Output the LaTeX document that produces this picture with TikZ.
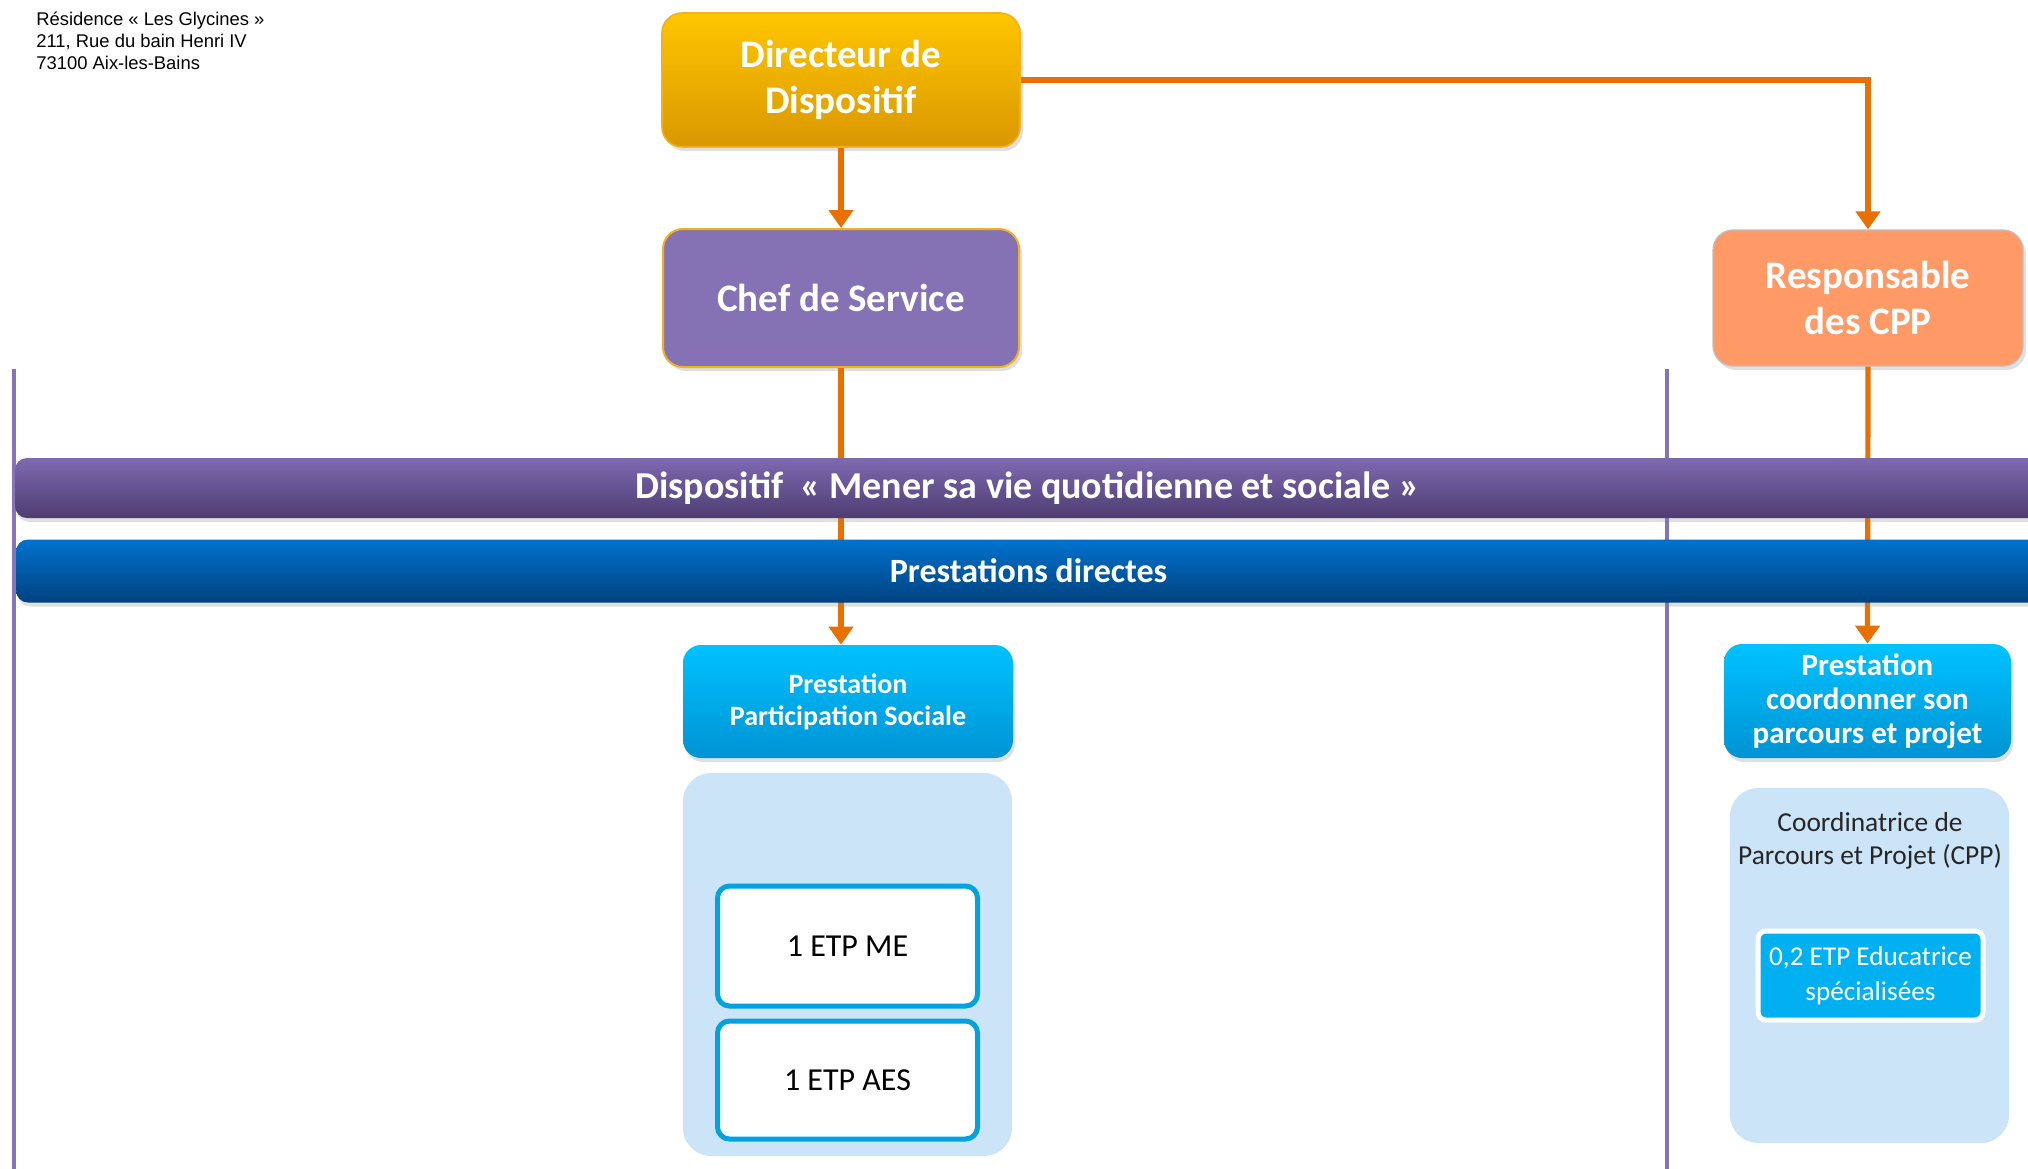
\documentclass[tikz,border=0pt]{standalone}
\usepackage{fontspec}
\setmainfont{Carlito}
\newfontfamily\addrfont{Liberation Sans}
\usepackage{tikz}
\usetikzlibrary{arrows.meta, positioning, shadows, calc}

\definecolor{dirtop}{HTML}{FFC600}
\definecolor{dirbot}{HTML}{D99800}
\definecolor{chefpurple}{HTML}{8472B4}
\definecolor{goldline}{HTML}{F2B01E}
\definecolor{respfill}{HTML}{FF9966}
\definecolor{linkorange}{HTML}{E87000}
\definecolor{bandtop}{HTML}{7E69B0}
\definecolor{bandbot}{HTML}{4E3D72}
\definecolor{bluetop}{HTML}{0072CE}
\definecolor{bluebot}{HTML}{00427F}
\definecolor{prestop}{HTML}{00C2FF}
\definecolor{presbot}{HTML}{0093D3}
\definecolor{panelblue}{HTML}{CCE4F8}
\definecolor{etpline}{HTML}{00A2E0}
\definecolor{edufill}{HTML}{00B0F0}
\definecolor{sepline}{HTML}{8673BA}

\begin{document}
\begin{tikzpicture}[
    x=0.5pt, y=-0.5pt,
    role/.style={rounded corners=10pt, align=center, text=white, font=\fontsize{19.5}{23}\selectfont\bfseries,
      drop shadow={shadow xshift=1.5pt, shadow yshift=-2pt, opacity=0.25}},
    band/.style={rounded corners=6pt, text=white, minimum width=1012.5pt,
      drop shadow={shadow xshift=1pt, shadow yshift=-2pt, opacity=0.25}},
    prest/.style={rounded corners=9pt, align=center, text=white, top color=prestop, bottom color=presbot,
      font=\fontsize{14}{16}\selectfont\bfseries,
      drop shadow={shadow xshift=1pt, shadow yshift=-2pt, opacity=0.25}},
    panel/.style={rounded corners=14pt, fill=panelblue},
    etp/.style={rounded corners=6pt, draw=etpline, line width=2.5pt, fill=white,
      minimum width=130pt, font=\fontsize{16}{19}\selectfont},
    link/.style={line width=2.6pt, linkorange},
    arr/.style={link, -{Triangle[width=12pt, length=9pt]}},
    sep/.style={line width=2pt, sepline},
]
  \useasboundingbox (0,0) rectangle (2028,1168);

  % adresse
  \node[anchor=north west, align=left, inner sep=0pt, font=\addrfont\fontsize{9.2}{11}\selectfont] (addr) at (36,12)
    {Résidence « Les Glycines »\\211, Rue du bain Henri IV\\73100 Aix-les-Bains};

  \node[role, top color=dirtop, bottom color=dirbot, draw=goldline, line width=0.8pt,
        minimum width=179pt, minimum height=67pt] (dir) at (841,80) {Directeur de\\Dispositif};
  \node[role, fill=chefpurple, draw=goldline, line width=1pt,
        minimum width=178pt, minimum height=69pt] (chef) at (841,298) {Chef de Service};
  \node[role, fill=respfill, draw=black!25, line width=0.6pt,
        minimum width=155pt, minimum height=68pt] (resp) at (1868,298) {Responsable\\des CPP};

  \node[prest, minimum width=165pt, minimum height=56.5pt] (pps) at (848,701.5) {Prestation\\Participation Sociale};
  \node[prest, minimum width=143.5pt, minimum height=57pt, font=\fontsize{15.5}{17}\selectfont\bfseries] (pcp) at (1867.5,701)
    {Prestation\\coordonner son\\parcours et projet};

  % traits de separation
  \coordinate (sepl) at (14,369);
  \coordinate (sepr) at (1667,369);
  \draw[sep] (sepl) -- (sepl |- 0,1170);
  \draw[sep] (sepr) -- (sepr |- 0,1170);

  % liaisons hierarchiques
  \draw[arr] (dir.south) -- (chef.north);
  \draw[arr] (dir.east) -| (resp.north);
  \draw[arr] (chef.south) -- (chef.south |- pps.north);
  \draw[arr] (resp.south) -- (pcp.north);

  \node[band, top color=bandtop, bottom color=bandbot, minimum height=30pt,
        font=\fontsize{19}{22}\selectfont\bfseries] (disp) at (1027.5,488)
    {Dispositif~ « Mener sa vie quotidienne et sociale »};
  \node[band, top color=bluetop, bottom color=bluebot, minimum height=31.5pt,
        font=\fontsize{17}{20}\selectfont\bfseries] (direct) at (1028.5,571) {Prestations directes};

  % effectifs
  \node[panel, minimum width=164.5pt, minimum height=191.5pt] (panl) at (847.5,964.5) {};
  \node[etp, minimum height=60pt] (me) at (847.5,946) {1 ETP ME};
  \node[etp, minimum height=59pt] (aes) at (847.5,1080) {1 ETP AES};

  \node[panel, minimum width=139.5pt, minimum height=177.5pt] (panr) at (1869.5,965.5) {};
  \node[align=center, font=\fontsize{13.7}{16.8}\selectfont, text=black!85] (cpp) at (1870,841)
    {Coordinatrice de\\Parcours et Projet (CPP)};
  \node[rounded corners=4pt, fill=edufill, draw=white, line width=2.5pt, text=white, align=center,
        minimum width=112.5pt, minimum height=44.5pt, font=\fontsize{13.6}{17.5}\selectfont] (edu) at (1870.5,975.5)
    {0,2 ETP Educatrice\\spécialisées};
\end{tikzpicture}
\end{document}
